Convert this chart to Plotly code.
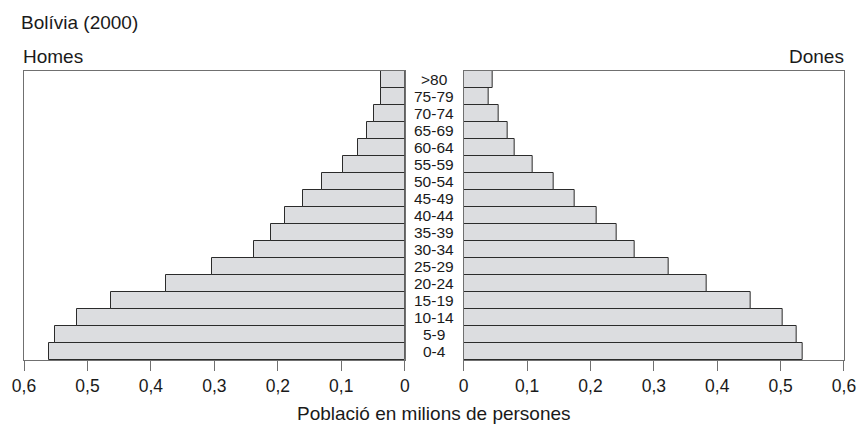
import plotly.graph_objects as go
from plotly.subplots import make_subplots

ages = ["0-4", "5-9", "10-14", "15-19", "20-24", "25-29", "30-34", "35-39",
        "40-44", "45-49", "50-54", "55-59", "60-64", "65-69", "70-74", "75-79", ">80"]
homes = [0.560, 0.551, 0.517, 0.463, 0.377, 0.303, 0.238, 0.210,
         0.189, 0.160, 0.131, 0.098, 0.073, 0.060, 0.048, 0.037, 0.037]
dones = [0.534, 0.525, 0.504, 0.452, 0.383, 0.323, 0.270, 0.241,
         0.210, 0.175, 0.142, 0.109, 0.080, 0.069, 0.055, 0.039, 0.045]
tick_vals = [0, 0.1, 0.2, 0.3, 0.4, 0.5, 0.6]
tick_text = ["0", "0,1", "0,2", "0,3", "0,4", "0,5", "0,6"]

FONT = "Liberation Sans, Arial, sans-serif"
TXT = "#1a1a1a"
FILL = "#dcdde0"
EDGE = "#2b2b2b"
FRAME = "#707070"

W, H = 868, 425
ML, MR, MT, MB = 18, 15, 71, 65
PW = W - ML - MR
PH = H - MT - MB


def px_x(pix):
    return (pix - ML) / PW


def px_y(pix):
    return (H - MB - pix) / PH


fig = make_subplots(rows=1, cols=2, horizontal_spacing=0.0)

fig.add_trace(go.Bar(y=ages, x=homes, orientation="h",
                     marker=dict(color=FILL, line=dict(color=EDGE, width=1)),
                     showlegend=False, hoverinfo="x+y"), row=1, col=1)
fig.add_trace(go.Bar(y=ages, x=dones, orientation="h",
                     marker=dict(color=FILL, line=dict(color=EDGE, width=1)),
                     showlegend=False, hoverinfo="x+y"), row=1, col=2)

axis_common = dict(tickvals=tick_vals, ticktext=tick_text, ticks="outside", ticklen=10, tickcolor=FRAME,
                   showline=True, linecolor=FRAME, linewidth=1, mirror=True, showgrid=False, zeroline=False,
                   tickfont=dict(family=FONT, size=17.5, color=TXT), fixedrange=True)
yaxis_common = dict(range=[-0.5, 16.5], showticklabels=False, ticks="", showline=True, linecolor=FRAME,
                    mirror=True, showgrid=False, zeroline=False, fixedrange=True)

fig.update_layout(
    xaxis=dict(domain=[0, px_x(405.7)], range=[0.6, 0], **axis_common),
    xaxis2=dict(domain=[px_x(465.7), 1], range=[0, 0.6], **axis_common),
    yaxis=yaxis_common,
    yaxis2=yaxis_common,
    bargap=0,
    width=W, height=H,
    margin=dict(l=ML, r=MR, t=MT, b=MB),
    paper_bgcolor="white", plot_bgcolor="white",
    font=dict(family=FONT, color=TXT),
)

mid = px_x(435.7)
for a in ages:
    fig.add_annotation(x=mid, xref="paper", y=a, yref="y", text=a, showarrow=False,
                       xanchor="center", yanchor="middle", font=dict(family=FONT, size=15.5, color=TXT))

fig.add_annotation(x=px_x(13), xref="paper", y=px_y(23), yref="paper", text="Bolívia (2000)", showarrow=False,
                   xanchor="left", yanchor="middle", font=dict(family=FONT, size=19, color=TXT))
fig.add_annotation(x=px_x(15), xref="paper", y=px_y(57), yref="paper", text="Homes", showarrow=False,
                   xanchor="left", yanchor="middle", font=dict(family=FONT, size=19, color=TXT))
fig.add_annotation(x=px_x(855), xref="paper", y=px_y(57), yref="paper", text="Dones", showarrow=False,
                   xanchor="right", yanchor="middle", font=dict(family=FONT, size=19, color=TXT))
fig.add_annotation(x=mid, xref="paper", y=px_y(413), yref="paper", text="Població en milions de persones",
                   showarrow=False, xanchor="center", yanchor="middle", font=dict(family=FONT, size=19, color=TXT))

# remove the default 8px page margin so the 868x425 figure fills the window exactly
fig.write_html("out.html", config={"displayModeBar": False},
               post_script="document.body.style.margin='0';document.body.style.overflow='hidden';")
